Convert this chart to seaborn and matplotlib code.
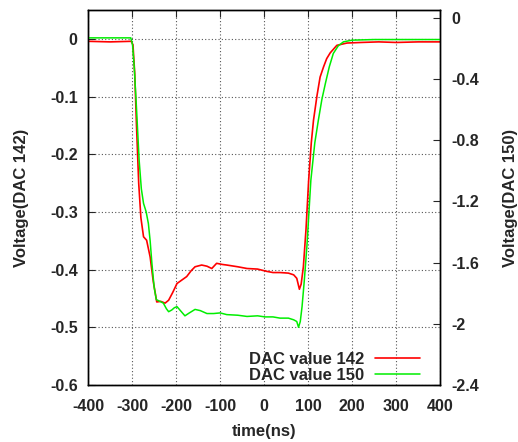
import matplotlib
matplotlib.use('Agg')
import matplotlib.pyplot as plt
import matplotlib.ticker as mticker
import pandas as pd
import seaborn as sns

# DAC 142 trace (left axis, volts)
red_time = [-400, -350, -302, -298, -294, -290, -285, -280, -274, -267, -259, -252, -244,
            -235, -225, -217, -208, -198, -187, -176, -166, -157, -142, -130, -119, -108,
            -95, -85, -60, -39, -15, 6, 20, 36, 55, 67, 74, 80, 84, 89, 95, 101, 107, 112,
            120, 127, 135, 142, 150, 165, 188, 220, 260, 300, 350, 400]
red_volt = [-0.004, -0.005, -0.004, -0.01, -0.06, -0.15, -0.25, -0.31, -0.343, -0.349, -0.378,
            -0.42, -0.456, -0.455, -0.458, -0.453, -0.44, -0.424, -0.418, -0.412, -0.402,
            -0.395, -0.392, -0.394, -0.398, -0.389, -0.391, -0.392, -0.395, -0.398, -0.399,
            -0.403, -0.405, -0.405, -0.406, -0.409, -0.415, -0.434, -0.425, -0.395, -0.33,
            -0.245, -0.18, -0.141, -0.098, -0.066, -0.048, -0.034, -0.024, -0.011, -0.007,
            -0.006, -0.005, -0.006, -0.005, -0.005]

# DAC 150 trace (right axis, volts)
green_time = [-400, -350, -303, -299, -295, -290, -284, -279, -274, -268, -263, -259, -255,
              -250, -245, -237, -229, -222, -217, -210, -204, -198, -189, -180, -170, -157,
              -145, -130, -115, -100, -85, -60, -39, -15, 2, 20, 36, 55, 67, 74, 78, 82, 86,
              91, 97, 106, 115, 123, 131, 139, 148, 157, 168, 180, 200, 250, 300, 350, 400]
green_volt = [-0.131, -0.131, -0.131, -0.176, -0.327, -0.591, -0.930, -1.118, -1.213, -1.269,
              -1.345, -1.458, -1.605, -1.759, -1.842, -1.853, -1.865, -1.902, -1.921, -1.910,
              -1.895, -1.888, -1.918, -1.948, -1.929, -1.906, -1.914, -1.933, -1.933, -1.929,
              -1.940, -1.944, -1.952, -1.948, -1.955, -1.955, -1.963, -1.963, -1.974, -1.985,
              -2.023, -1.985, -1.888, -1.722, -1.495, -1.062, -0.817, -0.670, -0.534, -0.429,
              -0.319, -0.233, -0.184, -0.157, -0.146, -0.142, -0.142, -0.142, -0.142]

x_ticks = [-400, -300, -200, -100, 0, 100, 200, 300, 400]
left_ticks = [-0.6, -0.5, -0.4, -0.3, -0.2, -0.1, 0]
right_ticks = [-2.4, -2, -1.6, -1.2, -0.8, -0.4, 0]

sns.set_style('white')
plt.rcParams['font.family'] = ['Liberation Sans', 'DejaVu Sans']
plt.rcParams['font.weight'] = 'bold'
plt.rcParams['axes.labelweight'] = 'bold'
plt.rcParams['axes.unicode_minus'] = False

fig = plt.figure(figsize=(5.18, 4.42), dpi=100)
ax = fig.add_axes([0.170, 0.129, 0.680, 0.848])
ax2 = ax.twinx()

red_df = pd.DataFrame({'time': red_time, 'volt': red_volt})
green_df = pd.DataFrame({'time': green_time, 'volt': green_volt})

sns.lineplot(data=red_df, x='time', y='volt', ax=ax, color='#ff0000', lw=1.2,
             label='DAC value 142', legend=False)
sns.lineplot(data=green_df, x='time', y='volt', ax=ax2, color='#00ee00', lw=1.1,
             label='DAC value 150', legend=False)

ax.set_xlim(-400, 400)
ax.set_ylim(-0.6, 0.05)
ax2.set_ylim(-2.4, 0.05)
ax.set_xticks(x_ticks)
ax.set_yticks(left_ticks)
ax2.set_yticks(right_ticks)
fmt = mticker.FuncFormatter(lambda v, p: '%g' % round(v, 3))
ax.yaxis.set_major_formatter(fmt)
ax2.yaxis.set_major_formatter(fmt)
ax.xaxis.set_major_formatter(fmt)

ax.grid(True, color='#555555', linestyle=(0, (1, 2)), lw=0.8)
ax.tick_params(axis='x', direction='in', top=True, length=5, labelsize=11.5, pad=10)
ax.tick_params(axis='y', direction='in', right=False, length=5, labelsize=11.5, pad=7.5)
ax2.tick_params(axis='y', direction='in', length=5, labelsize=11.5, pad=8)
for a in (ax, ax2):
    for s in a.spines.values():
        s.set_color('black')
        s.set_linewidth(1.0)

ax.set_xlabel('time(ns)', fontsize=12, labelpad=7)
ax.set_ylabel('Voltage(DAC 142)', fontsize=12, labelpad=15)
ax2.set_ylabel('Voltage(DAC 150)', fontsize=12, labelpad=17)

handles = ax.get_lines()[:1] + ax2.get_lines()[:1]
ax2.legend(handles, [h.get_label() for h in handles], loc='lower right', frameon=False,
           markerfirst=False, fontsize=12, handlelength=2.7, handletextpad=0.65,
           borderpad=0, borderaxespad=0, labelspacing=0.05,
           bbox_to_anchor=(0.943, 0.005))

fig.savefig('out.png', dpi=100)
